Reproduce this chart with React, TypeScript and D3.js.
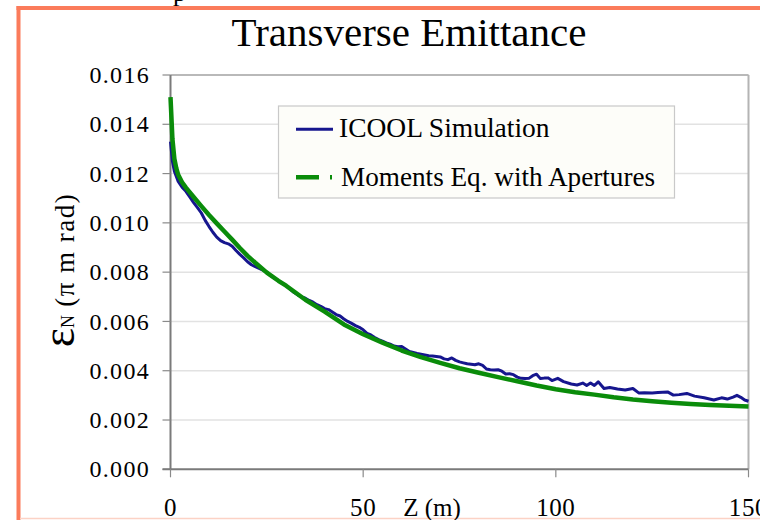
import React from "react";
import * as d3 from "d3";

// Z positions (m) and normalized transverse emittance (π m rad)
const icoolZ = [
  0, 0.5, 1, 2, 3, 4, 5, 6, 7, 8, 9, 10, 11, 12, 13, 14, 15, 16, 17, 18, 19, 20,
  21, 22, 23, 24, 25, 26, 28, 30, 32, 33, 34, 35, 36, 37, 38, 39, 40, 41, 42, 43,
  44, 45, 46, 47, 48, 49, 50, 51, 52, 53, 54, 55, 56, 57, 58, 59, 60, 61, 62, 63,
  64, 65, 66, 67, 68, 69, 70, 71, 72, 73, 74, 75, 76, 77, 78, 79, 80, 81, 82, 83,
  84, 85, 86, 87, 88, 89, 90, 91, 92, 93, 94, 95, 96, 97, 98, 99, 100, 100.5, 102,
  104, 105.5, 107, 108, 109, 110, 111, 112.5, 114, 116, 118, 120, 121.5, 123, 125,
  126.5, 129, 130.5, 132, 134, 136, 138.5, 141, 143, 144.5, 146, 147, 148, 149, 150,
];
const icoolEmit = [
  0.0133, 0.0125, 0.0121, 0.01168, 0.01145, 0.01128, 0.01105, 0.01082, 0.01062,
  0.0104, 0.0101, 0.00985, 0.00962, 0.00942, 0.00928, 0.0092, 0.00915, 0.00905,
  0.00888, 0.00872, 0.00858, 0.00842, 0.0083, 0.00822, 0.00815, 0.00808, 0.008,
  0.00785, 0.00765, 0.00745, 0.00718, 0.00708, 0.007, 0.00694, 0.00685, 0.00678,
  0.00668, 0.00661, 0.00652, 0.00648, 0.00638, 0.00628, 0.00622, 0.0061, 0.006,
  0.00592, 0.00583, 0.00576, 0.00566, 0.00552, 0.00545, 0.00535, 0.00526, 0.0052,
  0.00513, 0.00508, 0.005, 0.00497, 0.00498, 0.00488, 0.00478, 0.00474, 0.0047,
  0.00467, 0.00464, 0.00461, 0.0046, 0.00458, 0.00456, 0.00448, 0.00445, 0.00452,
  0.00442, 0.00436, 0.00432, 0.00428, 0.00426, 0.00424, 0.00428, 0.00422, 0.00407,
  0.00404, 0.00403, 0.00404, 0.00398, 0.00387, 0.00388, 0.00384, 0.00374, 0.00369,
  0.00368, 0.00369, 0.0038, 0.00386, 0.00368, 0.0037, 0.00371, 0.0036, 0.00366,
  0.00369, 0.00356, 0.00346, 0.00342, 0.0035, 0.0034, 0.0035, 0.0034, 0.00355,
  0.00328, 0.00332, 0.00326, 0.00322, 0.00328, 0.0031, 0.00311, 0.0031, 0.00312,
  0.00314, 0.00301, 0.00303, 0.00308, 0.00297, 0.0029, 0.00281, 0.0029, 0.00285,
  0.00293, 0.003, 0.00292, 0.00281, 0.00276,
];

const momentsZ = [
  0, 0.5, 1, 1.5, 2, 3, 4, 6, 8, 10, 12, 14, 16, 18, 20, 22, 25, 28, 30, 35, 40,
  45, 50, 55, 60, 65, 70, 75, 80, 85, 90, 95, 100, 105, 110, 115, 120, 125, 130,
  135, 140, 145, 150,
];
const momentsEmit = [
  0.0151, 0.0134, 0.0126, 0.01222, 0.01195, 0.01165, 0.01143, 0.01105, 0.01068,
  0.01032, 0.00998, 0.00965, 0.00932, 0.00898, 0.00866, 0.00838, 0.00798,
  0.00765, 0.00745, 0.00688, 0.0064, 0.00588, 0.00548, 0.00514, 0.00482, 0.00455,
  0.00432, 0.0041, 0.00392, 0.00374, 0.00357, 0.0034, 0.00325, 0.00313, 0.00303,
  0.00292, 0.00283, 0.00276, 0.0027, 0.00265, 0.00261, 0.00258, 0.00255,
];

const yTicks = [0, 0.002, 0.004, 0.006, 0.008, 0.01, 0.012, 0.014, 0.016];
const xTicks = [0, 50, 100, 150];
const seriesNames = ["ICOOL Simulation", "Moments Eq. with Apertures"];

const W = 760;
const H = 520;
const SERIF = "'Liberation Serif', 'Times New Roman', serif";
const BLUE = "#16168e";
const GREEN = "#0a8c0a";

export default function App() {
  const x = d3.scaleLinear().domain([0, 150]).range([170.5, 748.5]);
  const y = d3.scaleLinear().domain([0, 0.016]).range([469.3, 75]);

  const line = d3
    .line<[number, number]>()
    .x((d) => x(d[0]))
    .y((d) => y(d[1]));

  const icool = icoolZ.map((z, i) => [z, icoolEmit[i]] as [number, number]);
  const moments = momentsZ.map((z, i) => [z, momentsEmit[i]] as [number, number]);

  const [x0, x1] = x.range();
  const yBottom = y(0);
  const yTop = y(0.016);

  return (
    <svg
      width={W}
      height={H}
      style={{ position: "absolute", left: 0, top: 0, background: "#fff" }}
      fontFamily={SERIF}
    >
      {/* clipped glyph above the frame */}
      <text x={173} y={0.5} fontSize={26} fill="#000">
        p
      </text>

      {/* slide frame */}
      <line x1={16.5} x2={W} y1={8} y2={8} stroke="#fb7b5b" strokeWidth={4} />
      <line x1={18.5} x2={18.5} y1={6} y2={H} stroke="#fb7b5b" strokeWidth={4} />
      <line x1={20} x2={W} y1={518.5} y2={518.5} stroke="#fcd2c5" strokeWidth={1.5} />

      {/* title */}
      <text x={409} y={46} fontSize={41} textAnchor="middle" fill="#000">
        Transverse Emittance
      </text>

      {/* gridlines */}
      {yTicks.slice(1).map((t) => (
        <line
          key={"g" + t}
          x1={x0}
          x2={x1}
          y1={y(t)}
          y2={y(t)}
          stroke="#e2e2e2"
          strokeWidth={1.5}
        />
      ))}

      {/* plot frame */}
      <line x1={x0} x2={x1} y1={yTop} y2={yTop} stroke="#a8a8a8" strokeWidth={1.5} />
      <line x1={x1} x2={x1} y1={yTop} y2={yBottom} stroke="#b4b4b4" strokeWidth={2} />

      {/* y axis */}
      <line x1={x0} x2={x0} y1={yTop} y2={yBottom} stroke="#7a7a7a" strokeWidth={2} />
      {yTicks.map((t) => (
        <g key={"y" + t}>
          <line x1={x0 - 8} x2={x0} y1={y(t)} y2={y(t)} stroke="#8a8a8a" strokeWidth={1.2} />
          <text
            x={150}
            y={y(t)}
            dy="0.34em"
            fontSize={24}
            letterSpacing={1.3}
            textAnchor="end"
            fill="#000"
          >
            {t.toFixed(3)}
          </text>
        </g>
      ))}

      {/* x axis */}
      <line x1={x0 - 8} x2={x1} y1={yBottom} y2={yBottom} stroke="#7a7a7a" strokeWidth={2} />
      {xTicks.map((t) => (
        <g key={"x" + t}>
          <line x1={x(t)} x2={x(t)} y1={yBottom} y2={yBottom + 8} stroke="#8a8a8a" strokeWidth={1.2} />
          <text x={x(t)} y={516} fontSize={25} letterSpacing={0.6} textAnchor="middle" fill="#000">
            {t}
          </text>
        </g>
      ))}
      <text x={432} y={516} fontSize={25} textAnchor="middle" fill="#000">
        Z (m)
      </text>

      {/* y axis title */}
      <text transform="translate(73.5,270) rotate(-90)" textAnchor="middle" fill="#000">
        <tspan fontSize={46}>ε</tspan>
        <tspan fontSize={18}>N</tspan>
        <tspan fontSize={27} letterSpacing={1.5}>
          {" (π m rad)"}
        </tspan>
      </text>

      {/* series */}
      <path d={line(icool) ?? ""} fill="none" stroke={BLUE} strokeWidth={3} strokeLinejoin="round" />
      <path d={line(moments) ?? ""} fill="none" stroke={GREEN} strokeWidth={4.5} strokeLinejoin="round" />

      {/* legend */}
      <rect x={278.5} y={106} width={396} height={92} fill="#fdfdf9" stroke="#c9c9c9" strokeWidth={1.2} />
      <line x1={296} x2={333} y1={129.3} y2={129.3} stroke={BLUE} strokeWidth={3} />
      <line
        x1={296}
        x2={334}
        y1={177.3}
        y2={177.3}
        stroke={GREEN}
        strokeWidth={4.5}
        strokeDasharray="23 11 2 10"
      />
      <text x={339} y={137.3} fontSize={27.5} fill="#000">
        {seriesNames[0]}
      </text>
      <text x={341} y={185.5} fontSize={27.2} fill="#000">
        {seriesNames[1]}
      </text>
    </svg>
  );
}
